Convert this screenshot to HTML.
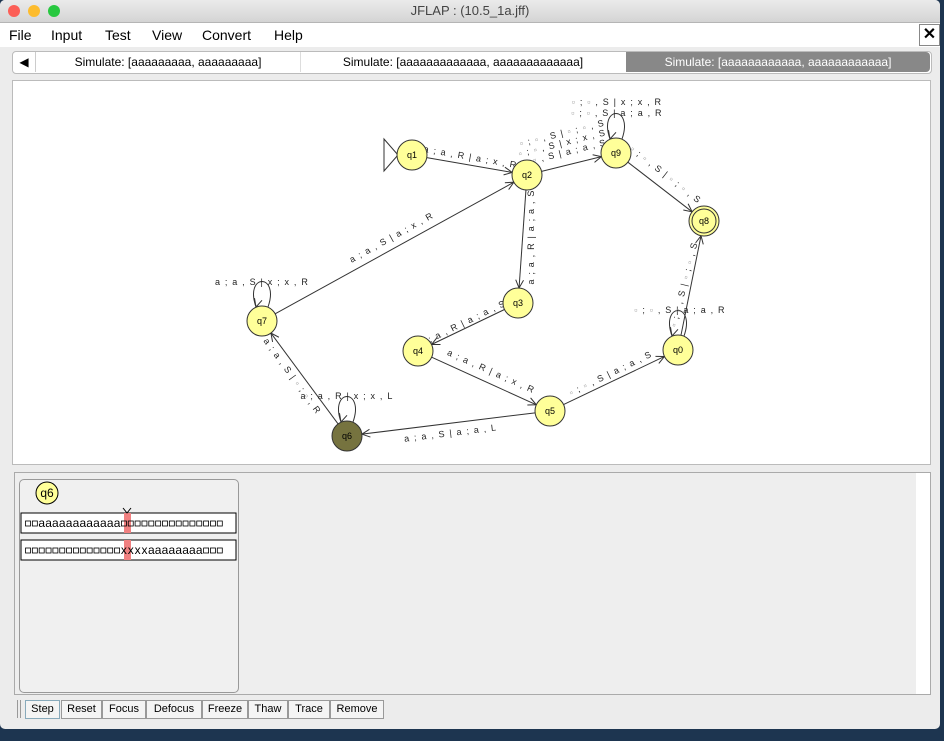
<!DOCTYPE html>
<html><head><meta charset="utf-8"><style>
body{margin:0;width:944px;height:741px;overflow:hidden;background:#1d3550;font-family:"Liberation Sans",sans-serif;position:relative}
.win{position:absolute;left:0;top:0;width:940px;height:729px;background:#ececec;border-radius:5px;overflow:hidden}
.title{position:absolute;left:0;top:0;width:940px;height:22px;background:linear-gradient(#ebebeb,#d4d4d4);text-align:center;font-size:13px;line-height:22px;color:#444;border-bottom:1px solid #b5b5b5}
.dot{position:absolute;top:5px;width:12px;height:12px;border-radius:50%}
.menu{position:absolute;left:0;top:23px;width:940px;height:24px;background:#fff;font-size:14px;line-height:24px}
.menu span{position:absolute;top:0}
.xbtn{position:absolute;left:919px;top:24px;width:19px;height:20px;border:1px solid #888;background:#fff;font-size:16px;text-align:center;line-height:20px;font-weight:bold}
.tabs{position:absolute;top:52px;height:20px;font-size:12px;line-height:20px;text-align:center}
.canvas{position:absolute;left:12px;top:80px;width:917px;height:383px;background:#fff;border:1px solid #bbb}
.lower{position:absolute;left:14px;top:472px;width:915px;height:221px;background:#eee;border:1px solid #aaa}
.btn{position:absolute;top:700px;height:17px;border:1px solid #999;background:#f4f4f4;font-size:11px;line-height:17px;text-align:center}
</style></head><body>
<div class="win">
<div class="title">JFLAP : (10.5_1a.jff)
<div class="dot" style="left:8px;background:#fc5f57"></div><div class="dot" style="left:28px;background:#fdbc2e"></div><div class="dot" style="left:48px;background:#28c840"></div></div>
<div class="menu"><span style="left:9px">File</span><span style="left:51px">Input</span><span style="left:105px">Test</span><span style="left:152px">View</span><span style="left:202px">Convert</span><span style="left:274px">Help</span></div>
<div class="xbtn">✕</div>
<div style="position:absolute;left:12px;top:51px;width:918px;height:21px;background:#fff;border:1px solid #bbb;border-radius:4px"></div>
<div class="tabs" style="left:13px;width:22px;border-right:1px solid #ccc">◀</div>
<div class="tabs" style="left:36px;width:264px;border-right:1px solid #ddd">Simulate: [aaaaaaaaa, aaaaaaaaa]</div>
<div class="tabs" style="left:301px;width:324px">Simulate: [aaaaaaaaaaaaa, aaaaaaaaaaaaa]</div>
<div class="tabs" style="left:626px;width:304px;background:#888;color:#fff;border-radius:0 4px 4px 0">Simulate: [aaaaaaaaaaaa, aaaaaaaaaaaa]</div>
<div class="canvas"></div>
<div class="lower"><div style="position:absolute;right:0;top:0;width:14px;height:221px;background:#fff"></div></div>
<div style="position:absolute;left:19px;top:479px;width:218px;height:212px;background:#f0f0f0;border:1px solid #999;border-radius:5px"></div>
<div class="btn" style="left:25px;width:33px;border-color:#8ab">Step</div>
<div class="btn" style="left:61px;width:39px">Reset</div>
<div class="btn" style="left:102px;width:42px">Focus</div>
<div class="btn" style="left:146px;width:54px">Defocus</div>
<div class="btn" style="left:202px;width:44px">Freeze</div>
<div class="btn" style="left:248px;width:38px">Thaw</div>
<div class="btn" style="left:288px;width:40px">Trace</div>
<div class="btn" style="left:330px;width:52px">Remove</div>
<div style="position:absolute;left:17px;top:700px;width:1px;height:18px;background:#999"></div><div style="position:absolute;left:20px;top:700px;width:1px;height:18px;background:#999"></div>
</div>
<svg width="944" height="741" style="position:absolute;left:0;top:0" font-family="Liberation Sans, DejaVu Sans, sans-serif">
<g id="g"></g>
<circle cx="47" cy="493" r="11" fill="#ffff99" stroke="#000"/><text x="47" y="497" font-size="12" text-anchor="middle">q6</text>
<rect x="21" y="513" width="215" height="20" fill="#fff" stroke="#000"/>
<rect x="124" y="513" width="7" height="20" fill="#f08080"/>
<path d="M123 508 L127 513 L131 508" stroke="#000" fill="none"/>
<rect x="21" y="540" width="215" height="20" fill="#fff" stroke="#000"/>
<rect x="124" y="540" width="7" height="20" fill="#f08080"/>
<g id="tape"></g>
</svg>
<script>
const N={q1:[412,155],q2:[527,175],q9:[616,153],q8:[704,221],q3:[518,303],q7:[262,321],q4:[418,351],q0:[678,350],q5:[550,411],q6:[347,436]};
const R=15;let s='';
function arrow(x,y,a){const l=9,w=0.45;return `<path d="M${x-l*Math.cos(a-w)} ${y-l*Math.sin(a-w)} L${x} ${y} L${x-l*Math.cos(a+w)} ${y-l*Math.sin(a+w)}" fill="none" stroke="#333"/>`}
function E(a,b){const [x1,y1]=N[a],[x2,y2]=N[b];const an=Math.atan2(y2-y1,x2-x1);
const sx=x1+R*Math.cos(an),sy=y1+R*Math.sin(an),ex=x2-R*Math.cos(an),ey=y2-R*Math.sin(an);
s+=`<line x1="${sx}" y1="${sy}" x2="${ex}" y2="${ey}" stroke="#333"/>`+arrow(ex,ey,an);}
function L(a){const [x,y]=N[a];s+=`<path d="M${x-6} ${y-14} C${x-18} ${y-48} ${x+18} ${y-48} ${x+6} ${y-14}" fill="none" stroke="#333"/>`+arrow(x-6,y-14,1.85);}
function T(t,x,y,r){s+=`<text x="${x}" y="${y}" font-size="9" letter-spacing="1.2" text-anchor="middle" fill="#222" transform="rotate(${r} ${x} ${y})">${t}</text>`;}
const b='<tspan fill="#999">▫</tspan>';
E('q1','q2');E('q2','q9');E('q9','q8');E('q7','q2');E('q2','q3');E('q3','q4');E('q4','q5');E('q5','q0');E('q0','q8');E('q5','q6');E('q6','q7');
L('q9');L('q7');L('q0');L('q6');
T('a ; a , R | a ; x , R',470,160,10);
T(`${b} ; ${b} , S | a ; a , S`,563,156,-14);
T(`${b} ; ${b} , S | x ; x , S`,563,146,-14);
T(`${b} ; ${b} , S | ${b} ; ${b} , S`,563,136,-14);
T(`${b} ; ${b} , S | x ; x , R`,617,105,0);
T(`${b} ; ${b} , S | a ; a , R`,617,116,0);
T(`${b} ; ${b} , S | ${b} ; ${b} , S`,664,177,38);
T('a ; a , S | a ; x , R',393,240,-29);
T('a ; a , R | a ; a , S',534,237,-90);
T('a ; a , S | x ; x , R',262,285,0);
T('a ; a , R | a ; a , S',464,326,-26);
T('a ; a , R | a ; x , R',490,374,24);
T(`${b} ; ${b} , S | a ; a , S`,612,376,-26);
T(`${b} ; ${b} , S | a ; a , R`,680,313,0);
T(`${b} ; ${b} , S | ${b} ; ${b} , S`,687,285,-76);
T('a ; a , S | a ; a , L',451,436,-7);
T(`a ; a , S | ${b} ; ${b} , R`,290,378,54);
T('a ; a , R | x ; x , L',347,399,0);
s+='<path d="M384 139 L398 155 L384 171 Z" fill="#fff" stroke="#333"/>';
for(const k in N){const [x,y]=N[k];const f=k=='q6'?'#76733f':'#ffff99';
s+=`<circle cx="${x}" cy="${y}" r="${R}" fill="${f}" stroke="#333"/>`;
if(k=='q8')s+=`<circle cx="${x}" cy="${y}" r="${R-3}" fill="none" stroke="#333"/>`;
s+=`<text x="${x}" y="${y+3}" font-size="9" text-anchor="middle">${k}</text>`;}
document.getElementById('g').innerHTML=s;
let t='';
function tape(str,y){for(let i=0;i<str.length;i++){const cx=28+i*6.85;const c=str[i];
if(c=='_')t+=`<rect x="${cx-2.5}" y="${y-6}" width="5" height="5" fill="none" stroke="#000" stroke-width="0.8"/>`;
else t+=`<text x="${cx}" y="${y}" font-size="12" text-anchor="middle">${c}</text>`;}}
tape('__aaaaaaaaaaaa_______________',527);
tape('______________xxxxaaaaaaaa___',554);
document.getElementById('tape').innerHTML=t;
</script>
</body></html>
